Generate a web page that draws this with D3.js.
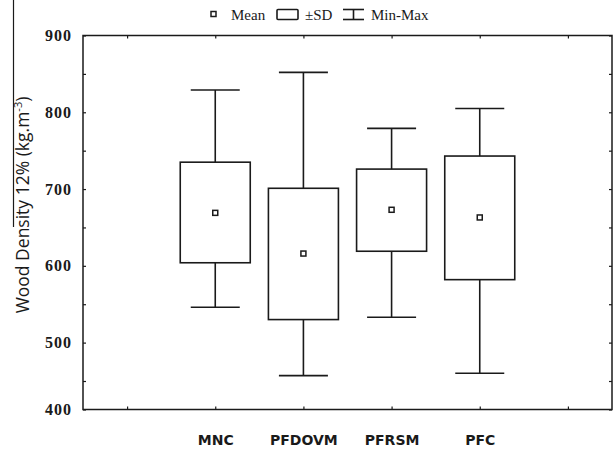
<!DOCTYPE html>
<meta charset="utf-8">
<style>
body { margin: 0; background: #fff; }
svg { display: block; }
.frame { fill: none; stroke: #1a1a1a; stroke-width: 1.5; }
.axis path { display: none; }
.axis line { stroke: #1a1a1a; stroke-width: 1.2; }
.ylab text { font: bold 16px "Liberation Serif", serif; fill: #1a1a1a; letter-spacing: 1px; }
.xlab text { font: bold 14px "DejaVu Sans", sans-serif; fill: #1a1a1a; }
.box { fill: #fff; stroke: #1a1a1a; stroke-width: 1.6; }
.whisk { stroke: #1a1a1a; stroke-width: 1.6; }
.legend text { font: 15px "Liberation Serif", serif; fill: #1a1a1a; }
</style>
<div id="chart"></div>
<script src="https://cdn.jsdelivr.net/npm/d3@7"></script>
<script>

// data
var categories = ["MNC", "PFDOVM", "PFRSM", "PFC"];
var means  = [669, 616, 673, 663];
var sdLow  = [604, 530, 619, 582];
var sdHigh = [735, 701, 726, 743];
var minVals = [546, 457, 533, 460];
var maxVals = [829, 852, 779, 805];
var yTicks = [400, 450, 500, 550, 600, 650, 700, 750, 800, 850, 900];
var xTicks = [0, 1, 2, 3, 4, 5];

var width = 616, height = 454;
var pLeft = 83, pRight = 612, pTop = 35.5, pBottom = 409.5;

var svg = d3.select("#chart").append("svg")
    .attr("width", width)
    .attr("height", height);

var x = d3.scaleLinear().domain([-0.5, 5.5]).range([pLeft, pRight]);
// the bottom strip of the original axis is squeezed, so the scale has a break at 450
var y = d3.scaleLinear().domain([400, 450, 900]).range([pBottom, 381, pTop]);

// axes, ticks pointing inward
svg.append("g")
    .attr("class", "axis ylab")
    .attr("transform", "translate(" + pLeft + ",0)")
    .call(d3.axisLeft(y).tickValues(yTicks).tickSize(-3).tickPadding(11)
      .tickFormat(function(d) { return d % 100 === 0 ? d : ""; }));

svg.append("g")
    .attr("class", "axis")
    .attr("transform", "translate(" + pRight + ",0)")
    .call(d3.axisRight(y).tickValues(yTicks).tickSize(-3).tickFormat(""));

svg.append("g")
    .attr("class", "axis xlab")
    .attr("transform", "translate(0," + pBottom + ")")
    .call(d3.axisBottom(x).tickValues(xTicks).tickSize(-3).tickPadding(26)
      .tickFormat(function(d) { return categories[d - 1] || ""; }));

svg.append("g")
    .attr("class", "axis")
    .attr("transform", "translate(0," + pTop + ")")
    .call(d3.axisTop(x).tickValues(xTicks).tickSize(-3).tickFormat(""));

svg.append("rect")
    .attr("class", "frame")
    .attr("x", pLeft)
    .attr("y", pTop)
    .attr("width", pRight - pLeft)
    .attr("height", pBottom - pTop);

// boxes
var bw = 70, cw = 49;
var g = svg.append("g");
categories.forEach(function(c, i) {
  var cx = x(i + 1);
  g.append("line").attr("class", "whisk")
      .attr("x1", cx).attr("x2", cx)
      .attr("y1", y(maxVals[i])).attr("y2", y(minVals[i]));
  g.append("line").attr("class", "whisk")
      .attr("x1", cx - cw / 2).attr("x2", cx + cw / 2)
      .attr("y1", y(maxVals[i])).attr("y2", y(maxVals[i]));
  g.append("line").attr("class", "whisk")
      .attr("x1", cx - cw / 2).attr("x2", cx + cw / 2)
      .attr("y1", y(minVals[i])).attr("y2", y(minVals[i]));
  g.append("rect").attr("class", "box")
      .attr("x", cx - bw / 2)
      .attr("y", y(sdHigh[i]))
      .attr("width", bw)
      .attr("height", y(sdLow[i]) - y(sdHigh[i]));
  g.append("rect").attr("class", "box")
      .attr("x", cx - 2.5).attr("y", y(means[i]) - 2.5)
      .attr("width", 5).attr("height", 5)
      .style("stroke-width", 1.5);
});

// y title
var yt = svg.append("text")
    .attr("transform", "translate(29,205) rotate(-90)")
    .style("text-anchor", "middle")
    .style("font", "17.5px 'Open Sans', sans-serif")
    .style("fill", "#1a1a1a");
yt.append("tspan").text("Wood Density 12% (kg.m");
yt.append("tspan").attr("dy", -7).style("font-size", "11px").text("-3");
yt.append("tspan").attr("dy", 7).text(")");

// stray rule at the left edge of the original
svg.append("line")
    .attr("x1", 13.5).attr("x2", 13.5)
    .attr("y1", 0).attr("y2", 227)
    .style("stroke", "#1a1a1a").style("stroke-width", 1.2);

// legend
var lg = svg.append("g").attr("class", "legend");
lg.append("rect").attr("class", "box")
    .attr("x", 211).attr("y", 11.5).attr("width", 5).attr("height", 5)
    .style("stroke-width", 1.5);
lg.append("text").attr("x", 231).attr("y", 19.5).text("Mean");
lg.append("rect").attr("class", "box")
    .attr("x", 277).attr("y", 9.5).attr("width", 21).attr("height", 10)
    .attr("rx", 1);
lg.append("text").attr("x", 305).attr("y", 19.5).text("±SD");
lg.append("line").attr("class", "whisk").attr("x1", 343).attr("x2", 364).attr("y1", 9.5).attr("y2", 9.5);
lg.append("line").attr("class", "whisk").attr("x1", 353.5).attr("x2", 353.5).attr("y1", 9.5).attr("y2", 19.5);
lg.append("line").attr("class", "whisk").attr("x1", 343).attr("x2", 364).attr("y1", 19.5).attr("y2", 19.5);
lg.append("text").attr("x", 371).attr("y", 19.5).text("Min-Max");

</script>
